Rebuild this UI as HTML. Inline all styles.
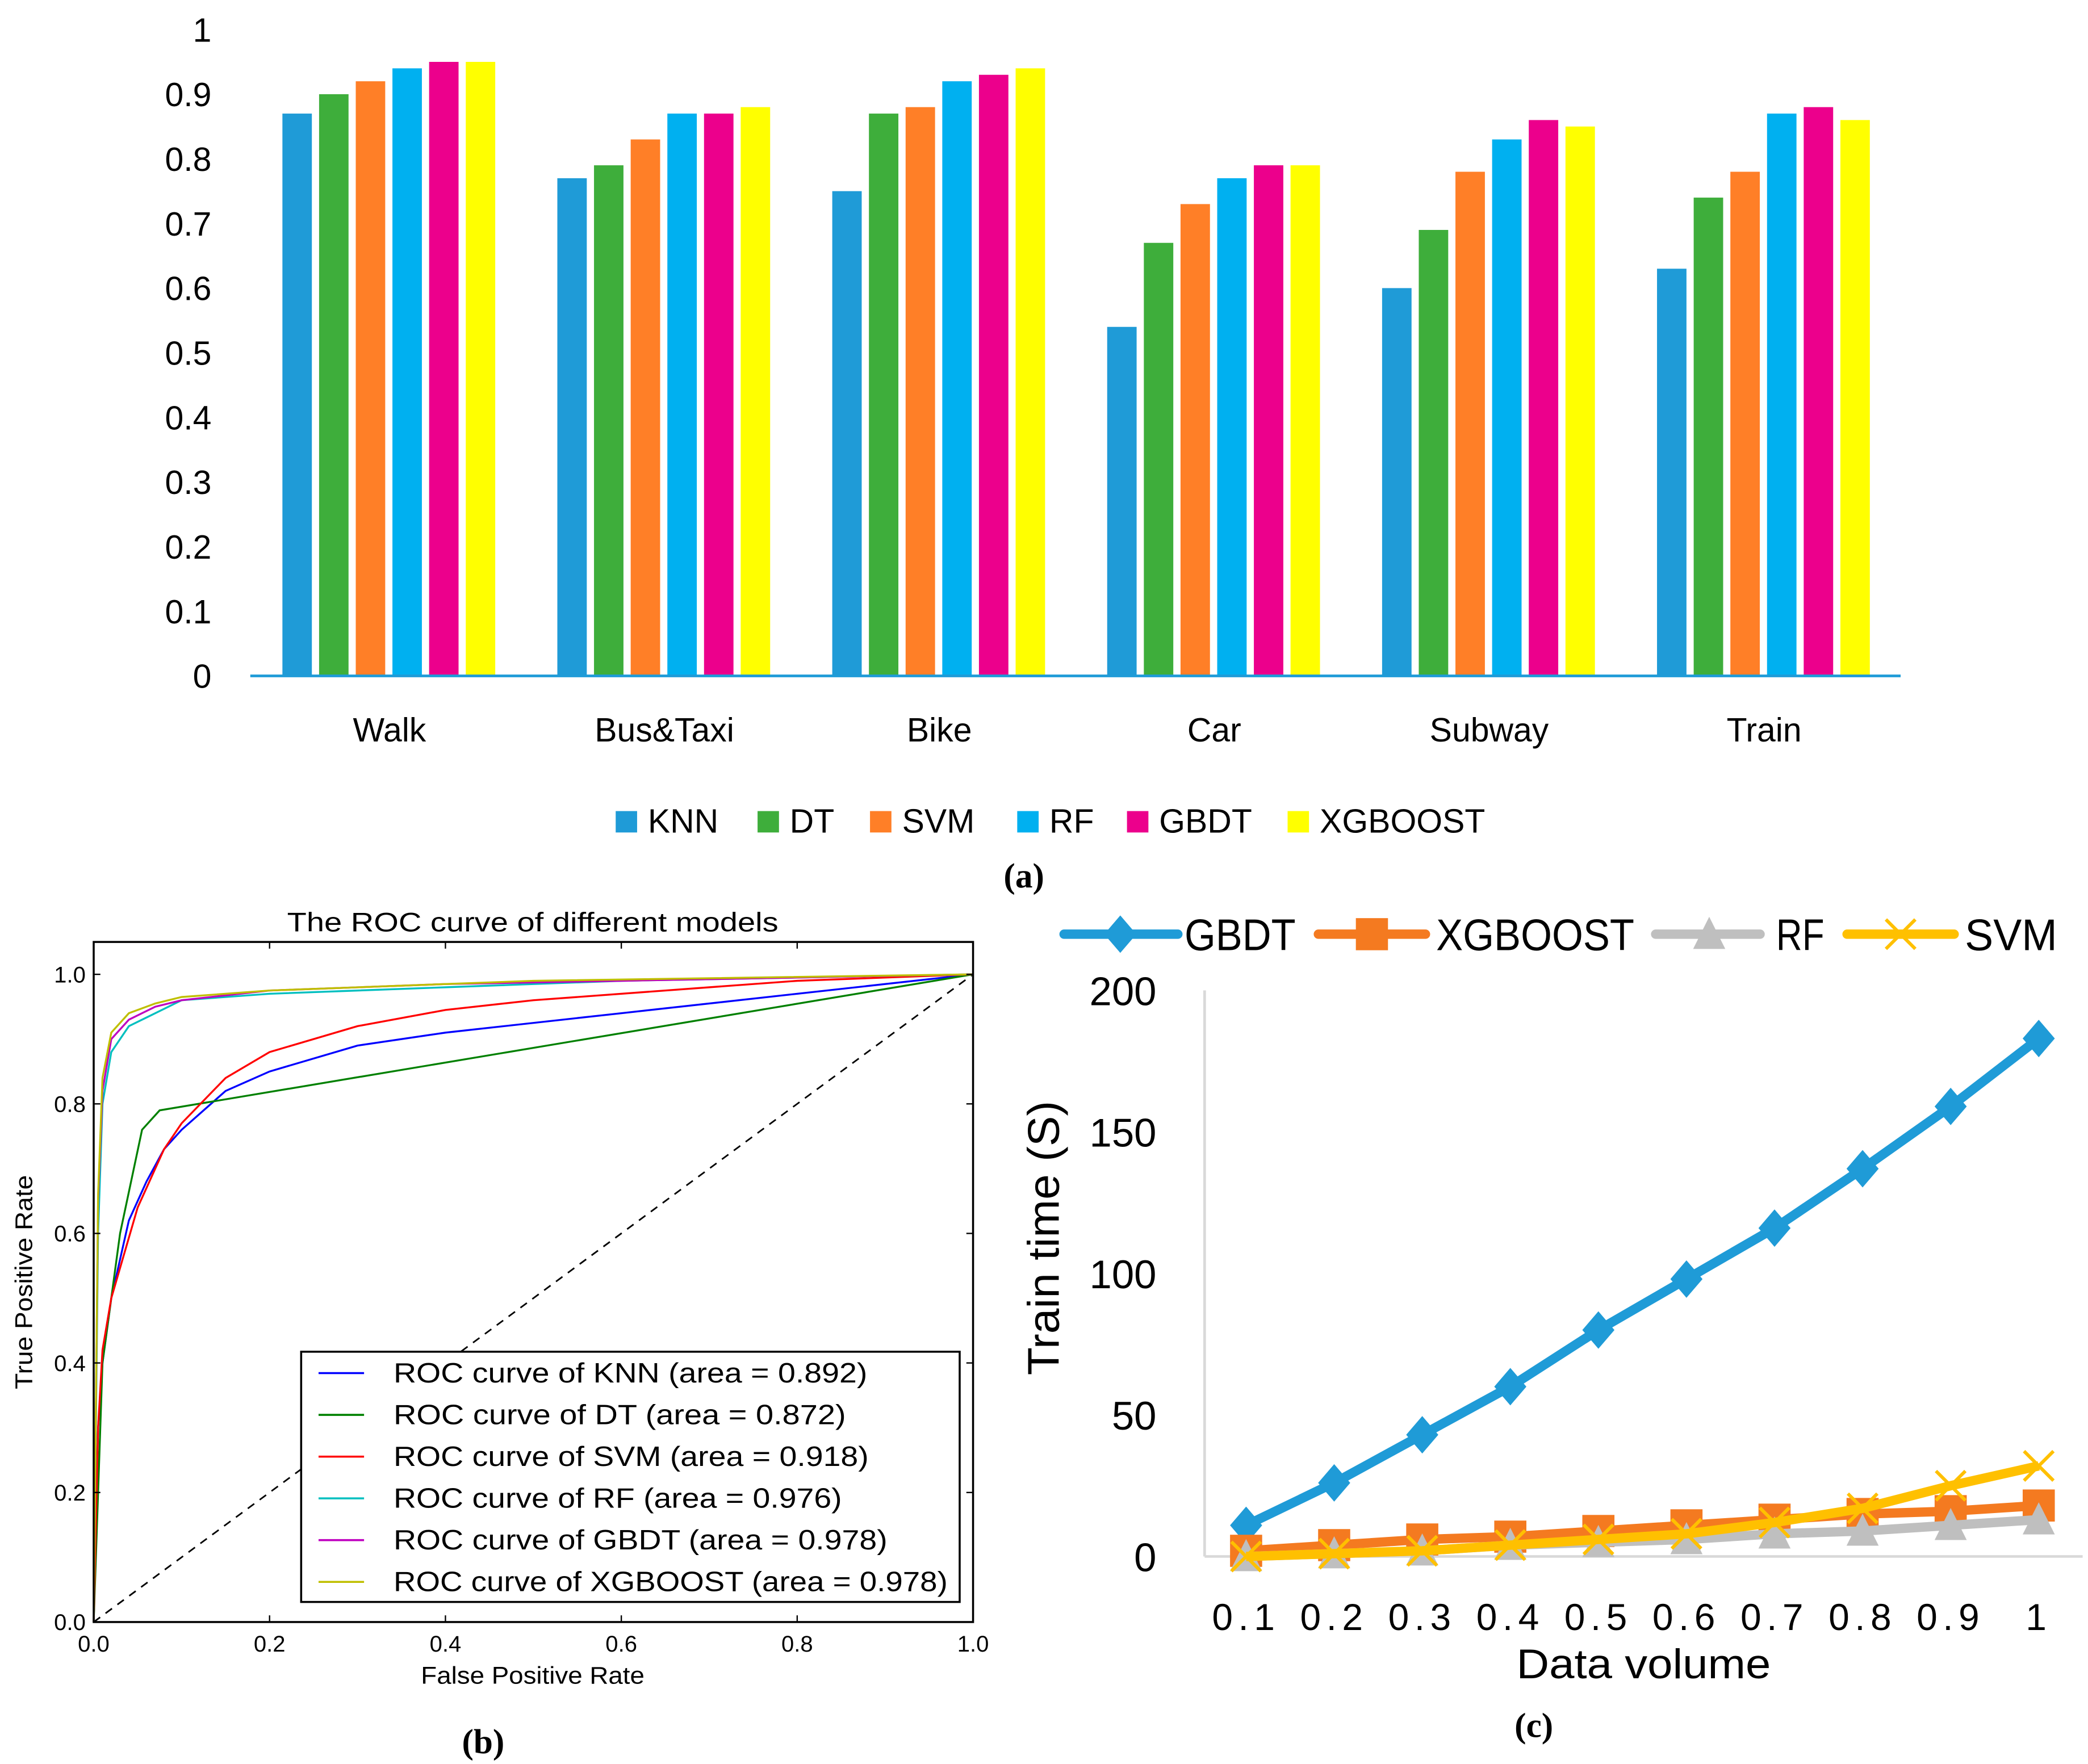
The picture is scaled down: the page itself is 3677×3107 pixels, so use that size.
<!DOCTYPE html>
<html><head><meta charset="utf-8">
<style>
html,body{margin:0;padding:0;background:#fff;}
svg{display:block;}
text{font-family:"Liberation Sans",sans-serif;}
.n{font-family:"Liberation Sans Narrow","Liberation Sans",sans-serif;}
.cap{font-family:"Liberation Serif",serif;font-weight:bold;}
</style></head>
<body>
<svg id="root" xmlns="http://www.w3.org/2000/svg" width="3677" height="3107" viewBox="0 0 1560 1318">
<rect width="1560" height="1318" fill="#fff"/>
<g id="ga"></g>
<g id="gb"></g>
<g id="gc"></g>
<text class="cap" x="765" y="663" font-size="26" text-anchor="middle">(a)</text>
<text class="cap" x="361" y="1310" font-size="26" text-anchor="middle">(b)</text>
<text class="cap" x="1146" y="1298" font-size="26" text-anchor="middle">(c)</text>
</svg>
<script>
// ---------- Chart A data ----------
const aCategories = ["Walk","Bus&Taxi","Bike","Car","Subway","Train"];
const aSeries = ["KNN","DT","SVM","RF","GBDT","XGBOOST"];
const aKNN = [0.87,0.77,0.75,0.54,0.60,0.63];
const aDT = [0.90,0.79,0.87,0.67,0.69,0.74];
const aSVM = [0.92,0.83,0.88,0.73,0.78,0.78];
const aRF = [0.94,0.87,0.92,0.77,0.83,0.87];
const aGBDT = [0.95,0.87,0.93,0.79,0.86,0.88];
const aXGB = [0.95,0.88,0.94,0.79,0.85,0.86];
const aTicks = ["0","0.1","0.2","0.3","0.4","0.5","0.6","0.7","0.8","0.9","1"];

// ---------- Chart B data ----------
const bSeries = ["KNN","DT","SVM","RF","GBDT","XGBOOST"];
const bAreas = ["0.892","0.872","0.918","0.976","0.978","0.978"];
const rocKNN = [[0,0],[0.005,0.3],[0.01,0.4],[0.02,0.5],[0.04,0.62],[0.06,0.68],[0.08,0.73],[0.1,0.76],[0.15,0.82],[0.2,0.85],[0.3,0.89],[0.4,0.91],[0.6,0.94],[0.8,0.97],[1,1]];
const rocDT = [[0,0],[0.01,0.4],[0.03,0.6],[0.055,0.76],[0.075,0.79],[1,1]];
const rocSVM = [[0,0],[0.005,0.3],[0.01,0.42],[0.02,0.5],[0.05,0.64],[0.08,0.73],[0.1,0.77],[0.15,0.84],[0.2,0.88],[0.3,0.92],[0.4,0.945],[0.5,0.96],[0.7,0.98],[0.8,0.99],[1,1]];
const rocRF = [[0,0],[0.005,0.6],[0.01,0.8],[0.02,0.88],[0.04,0.92],[0.07,0.94],[0.1,0.96],[0.2,0.97],[0.4,0.98],[0.6,0.99],[1,1]];
const rocGBDT = [[0,0],[0.005,0.65],[0.01,0.82],[0.02,0.9],[0.04,0.93],[0.07,0.95],[0.1,0.96],[0.2,0.975],[0.4,0.985],[0.6,0.99],[1,1]];
const rocXGB = [[0,0],[0.005,0.66],[0.01,0.84],[0.02,0.91],[0.04,0.94],[0.07,0.955],[0.1,0.965],[0.2,0.975],[0.5,0.99],[1,1]];
const bTicks = ["0.0","0.2","0.4","0.6","0.8","1.0"];

// ---------- Chart C data ----------
const cX = ["0.1","0.2","0.3","0.4","0.5","0.6","0.7","0.8","0.9","1"];
const cGBDT = [11,26,43,60,80,98,116,137,159,183];
const cXGB = [2,4,6,7,9,11,13,15,16,18];
const cRF = [0,1,2,4,5,6,8,9,11,13];
const cSVM = [0,1,2,4,6,8,12,17,25,32];
const cTicks = [0,50,100,150,200];

const NS="http://www.w3.org/2000/svg";
function mk(parent,tag,attrs,text){const e=document.createElementNS(NS,tag);for(const k in attrs)e.setAttribute(k,attrs[k]);if(text!==undefined)e.textContent=text;parent.appendChild(e);return e;}

// ===== Chart A =====
(function(){
const g=document.getElementById('ga');
const y=v=>505-v*483;
const cx=i=>291+i*205.4;
const colors=["#1f9bd7","#3eae3b","#ff7f27","#00b0f0","#ec008c","#ffff00"];
const vals=[aKNN,aDT,aSVM,aRF,aGBDT,aXGB];
aTicks.forEach((t,i)=>{const el=mk(g,'text',{x:158,y:y(i/10)+9,'font-size':25,'text-anchor':'end',class:'n'},t);

});
vals.forEach((s,si)=>{s.forEach((v,ci)=>{const r=mk(g,'rect',{x:cx(ci)-80+si*27.4,y:y(v),width:22,height:505-y(v),fill:colors[si]});

});});
const ax=mk(g,'line',{x1:187,x2:1420,y1:505,y2:505,stroke:'#1f9bd7','stroke-width':2});


aCategories.forEach((c,i)=>{const el=mk(g,'text',{x:cx(i),y:554,'font-size':25,'text-anchor':'middle',class:'n'},c);

});
const lx=[460,566,650,760,842,962];
aSeries.forEach((s,i)=>{const r=mk(g,'rect',{x:lx[i],y:606,width:16,height:16,fill:colors[i]});


const t=mk(g,'text',{x:lx[i]+24,y:622,'font-size':25,class:'n'},s);

});
})();

// ===== Chart B =====
(function(){
const g=document.getElementById('gb');
const X=v=>70+v*657, Y=v=>1212-v*484;
const colors=["#0000ff","#008000","#ff0000","#00bfbf","#bf00bf","#bfbf00"];
const rocs=[rocKNN,rocDT,rocSVM,rocRF,rocGBDT,rocXGB];
const legW=[354,338,355,335,369,414];
const t=mk(g,'text',{x:398,y:696,'font-size':20,'text-anchor':'middle',textLength:367,lengthAdjust:'spacingAndGlyphs'},"The ROC curve of different models");


const dl=mk(g,'line',{x1:X(0),y1:Y(0),x2:X(1),y2:Y(1),stroke:'#000','stroke-width':1.2,'stroke-dasharray':'6,5'});


rocs.forEach((r,i)=>{const p=mk(g,'polyline',{points:r.map(q=>X(q[0])+','+Y(q[1])).join(' '),fill:'none',stroke:colors[i],'stroke-width':1.4});

});
const fr=mk(g,'rect',{x:70,y:Y(1.05),width:657,height:Y(0)-Y(1.05),fill:'none',stroke:'#000','stroke-width':1.5});


bTicks.forEach((tk,i)=>{const v=i/5;
mk(g,'line',{x1:X(v),x2:X(v),y1:Y(0),y2:Y(0)-5,stroke:'#000'});
mk(g,'line',{x1:X(v),x2:X(v),y1:Y(1.05),y2:Y(1.05)+5,stroke:'#000'});
mk(g,'line',{x1:70,x2:75,y1:Y(v),y2:Y(v),stroke:'#000'});
mk(g,'line',{x1:722,x2:727,y1:Y(v),y2:Y(v),stroke:'#000'});
const a=mk(g,'text',{x:X(v),y:1234,'font-size':17,'text-anchor':'middle'},tk);


const b=mk(g,'text',{x:64,y:Y(v)+6,'font-size':17,'text-anchor':'end'},tk);

});
const xl=mk(g,'text',{x:398,y:1258,'font-size':18,'text-anchor':'middle',textLength:167,lengthAdjust:'spacingAndGlyphs'},"False Positive Rate");


const yl=mk(g,'text',{x:0,y:0,'font-size':18,'text-anchor':'middle',transform:'translate(24,958) rotate(-90)',textLength:160,lengthAdjust:'spacingAndGlyphs'},"True Positive Rate");


const lb=mk(g,'rect',{x:225,y:1010,width:492,height:187,fill:'#fff',stroke:'#000','stroke-width':1.5});


bSeries.forEach((s,i)=>{const yy=1026+i*31.2;
mk(g,'line',{x1:238,x2:272,y1:yy,y2:yy,stroke:colors[i],'stroke-width':1.5});
const e=mk(g,'text',{x:294,y:yy+7,'font-size':21,textLength:legW[i],lengthAdjust:'spacingAndGlyphs'},"ROC curve of "+s+" (area = "+bAreas[i]+")");

});
})();

// ===== Chart C =====
(function(){
const g=document.getElementById('gc');
const X=i=>931+i*65.8, Y=v=>1163-v*2.115;
mk(g,'line',{x1:900,x2:900,y1:740,y2:1163,stroke:'#d9d9d9','stroke-width':2});
mk(g,'line',{x1:900,x2:1556,y1:1163,y2:1163,stroke:'#d9d9d9','stroke-width':2});
cTicks.forEach(v=>{const e=mk(g,'text',{x:864,y:Y(v)+11,'font-size':30,'text-anchor':'end',class:'n'},String(v));

});
cX.forEach((l,i)=>{const e=mk(g,'text',{x:X(i),y:1218,'font-size':28,'text-anchor':'middle','letter-spacing':'4',class:'n'},l);

});
const xt=mk(g,'text',{x:1228,y:1254,'font-size':31,'text-anchor':'middle',class:'n',textLength:190,lengthAdjust:'spacingAndGlyphs'},"Data volume");


const yt=mk(g,'text',{x:0,y:0,'font-size':33,'text-anchor':'middle',class:'n',transform:'translate(791,925) rotate(-90)',textLength:205,lengthAdjust:'spacingAndGlyphs'},"Train time (S)");


function marker(type,x,y,col){
 if(type==='d')return mk(g,'polygon',{points:`${x},${y-14} ${x+12},${y} ${x},${y+14} ${x-12},${y}`,fill:col});
 if(type==='s')return mk(g,'rect',{x:x-12,y:y-12,width:24,height:24,fill:col});
 if(type==='t')return mk(g,'polygon',{points:`${x},${y-13} ${x+12},${y+11} ${x-12},${y+11}`,fill:col});
 return mk(g,'path',{d:`M${x-11},${y-11}L${x+11},${y+11}M${x+11},${y-11}L${x-11},${y+11}`,stroke:col,'stroke-width':2.5,fill:'none'});
}
const series=[["GBDT",cGBDT,"#1f9bd7","d"],["XGBOOST",cXGB,"#f47a20","s"],["RF",cRF,"#bfbfbf","t"],["SVM",cSVM,"#ffc000","x"]];
series.forEach(s=>{const p=mk(g,'polyline',{points:s[1].map((v,i)=>X(i)+','+Y(v)).join(' '),fill:'none',stroke:s[2],'stroke-width':7,'stroke-linejoin':'round'});


s[1].forEach((v,i)=>{const m=marker(s[3],X(i),Y(v),s[2]);

});});
const leg=[[795,880,837,885,83],[985,1065,1025,1073,148],[1237,1315,1277,1327,36],[1380,1460,1420,1468,69]];
series.forEach((s,i)=>{const L=leg[i];
mk(g,'line',{x1:L[0],x2:L[1],y1:698,y2:698,stroke:s[2],'stroke-width':7,'stroke-linecap':'round'});
const m=marker(s[3],L[2],698,s[2]);


const e=mk(g,'text',{x:L[3],y:710,'font-size':33,class:'n',textLength:L[4],lengthAdjust:'spacingAndGlyphs'},s[0]);

});
})();
</script>
</body></html>
